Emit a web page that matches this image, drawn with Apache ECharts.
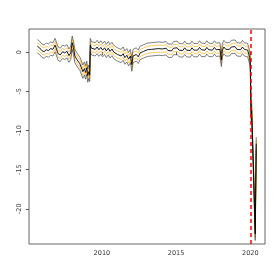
<!DOCTYPE html>
<html><head><meta charset="utf-8">
<script src="https://cdn.jsdelivr.net/npm/echarts@6/dist/echarts.min.js"></script>
<style>html,body{margin:0;padding:0;background:#fff}#c{width:280px;height:280px}</style>
</head><body><div id="c"></div>
<script>
// decimal years
const years = [2005.65,2005.80,2005.95,2006.10,2006.25,2006.40,2006.55,2006.70,2006.85,2006.95,
2007.05,2007.20,2007.35,2007.50,2007.65,2007.78,2007.90,2008.00,2008.08,2008.18,
2008.30,2008.42,2008.52,2008.62,2008.72,2008.82,2008.90,2008.98,2009.05,2009.12,
2009.18,2009.22,2009.30,2009.42,2009.55,2009.68,2009.80,2009.93,2010.05,2010.18,
2010.30,2010.43,2010.55,2010.68,2010.80,2010.93,2011.05,2011.18,2011.30,2011.43,
2011.55,2011.68,2011.80,2011.92,2012.02,2012.10,2012.20,2012.32,2012.45,2012.58,
2012.70,2012.82,2012.95,2013.07,2013.20,2013.33,2013.45,2013.58,2013.70,2013.83,
2013.95,2014.07,2014.20,2014.33,2014.45,2014.58,2014.70,2014.83,2014.95,2015.07,
2015.20,2015.33,2015.45,2015.58,2015.70,2015.83,2015.95,2016.07,2016.20,2016.33,
2016.45,2016.58,2016.70,2016.83,2016.95,2017.07,2017.20,2017.33,2017.45,2017.58,
2017.70,2017.82,2017.95,2018.05,2018.12,2018.22,2018.35,2018.47,2018.60,2018.72,
2018.85,2018.97,2019.10,2019.22,2019.35,2019.47,2019.60,2019.72,2019.82,2019.90,
2019.96,2020.00,2020.04,2020.07,2020.09,2020.11,2020.13,2020.22,2020.33,2020.40];
// central estimate
const centre = [0.75,0.55,0.2,0.05,0.3,0.2,0.45,0.35,0.9,0.7,
-0.2,-0.35,0.05,-0.1,0.1,-0.45,-0.1,1.2,0.6,-0.5,
-0.9,-0.7,-1.5,-1.3,-2.5,-2.1,-2.6,-2.0,-3.0,-2.5,
-2.9,0.9,0.5,0.75,0.35,0.65,0.3,0.6,0.25,0.55,
0.15,0.5,0.1,0.4,0.0,0.25,-0.3,-0.1,-0.5,-0.2,
-0.7,-0.4,-0.9,-0.5,-1.6,-0.5,-0.7,-0.3,-0.6,-0.1,
-0.35,0.1,-0.15,0.3,0.05,0.35,0.1,0.4,0.15,0.45,
0.2,0.4,0.15,0.5,0.2,0.45,0.15,0.5,0.25,0.55,
0.25,0.5,0.2,0.55,0.25,0.5,0.2,0.55,0.25,0.5,
0.25,0.6,0.3,0.55,0.25,0.6,0.3,0.55,0.25,0.6,
0.3,0.55,0.35,-1.0,0.25,0.65,0.35,0.6,0.35,0.65,
0.4,0.7,0.35,0.6,0.3,0.65,0.35,0.55,0.25,-0.3,
-0.7,-1.5,-6.8,-8.2,-7.4,-8.8,-8.9,-15.5,-23.2,-11.7];
// half widths of the interval lines (value units)
const outerHalf = 0.85;
const innerHalf = 0.45;
const yTicks = [-20,-15,-10,-5,0];
const xTicks = [2010,2015,2020];
const breakYear = 2020;

const pts = (off) => years.map((y,i)=>[y, centre[i]+off]);
const chart = echarts.init(document.getElementById('c'), null, {renderer:'canvas'});
const lineS = (data,color,w,op,z) => ({type:'line',data,showSymbol:false,symbol:'none',
  lineStyle:{color,width:w,opacity:op},z,silent:true});
chart.setOption({
  animation:false,
  grid:{left:29,right:15,top:29,bottom:36,show:true,borderColor:'#666',borderWidth:1,backgroundColor:'transparent'},
  xAxis:{type:'value',min:2005.09,max:2020.99,
    axisLine:{show:false},splitLine:{show:false},
    axisTick:{show:true,inside:false,length:3,lineStyle:{color:'#555'},customValues:xTicks},
    axisLabel:{customValues:xTicks,formatter:v=>String(v),fontSize:6.5,color:'#333',margin:6,fontFamily:'DejaVu Sans'}},
  yAxis:{type:'value',min:-24.5,max:2.95,
    axisLine:{show:false},splitLine:{show:false},
    axisTick:{show:true,inside:false,length:3,lineStyle:{color:'#555'},customValues:yTicks},
    axisLabel:{customValues:yTicks,formatter:v=>String(v),fontSize:6.5,color:'#333',margin:6,rotate:90,fontFamily:'DejaVu Sans'}},
  series:[
    lineS(pts(innerHalf),'#FFA500',0.9,0.7,2),
    lineS(pts(-innerHalf),'#FFA500',0.9,0.7,2),
    lineS(pts(outerHalf),'#333',0.7,0.9,3),
    lineS(pts(-outerHalf),'#333',0.7,0.9,3),
    Object.assign(lineS(pts(0),'#000',0.9,1,4),{
      markLine:{silent:true,symbol:'none',label:{show:false},
        lineStyle:{color:'#ff0000',type:[4,3],width:1.5},
        data:[{xAxis:breakYear}]}})
  ]
});
</script></body></html>
